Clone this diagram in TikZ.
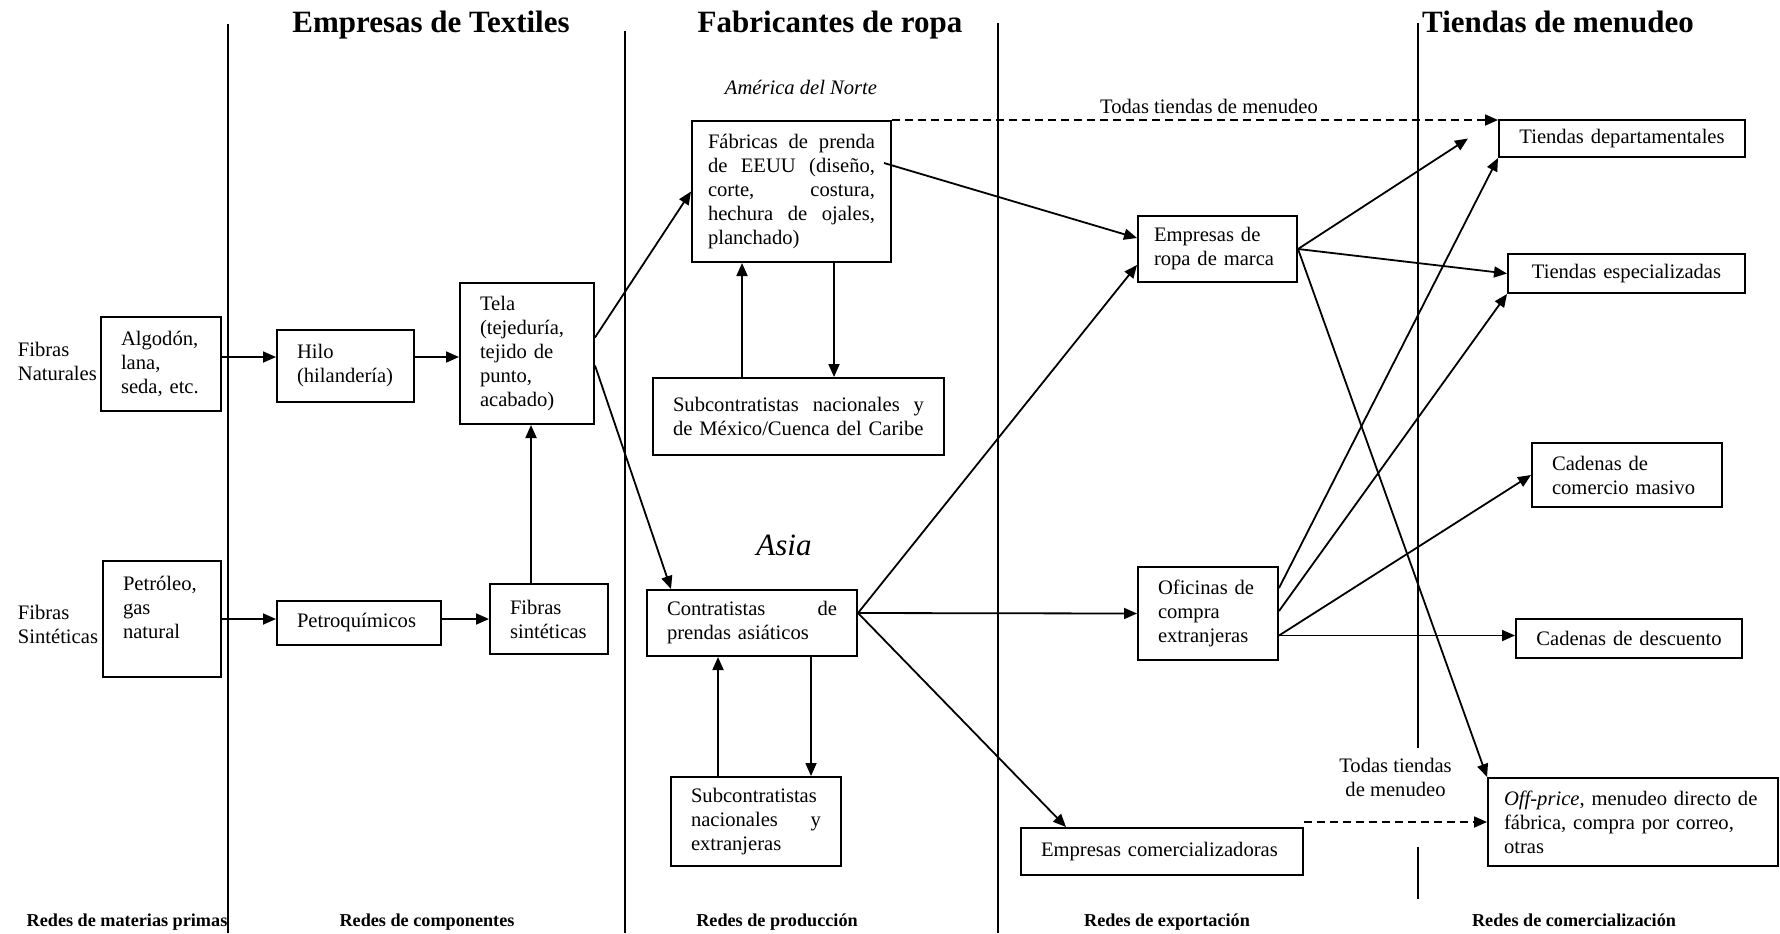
\documentclass[tikz,border=0pt]{standalone}
\usepackage{fontspec}
\setmainfont{Liberation Serif}
\usetikzlibrary{arrows.meta}

\begin{document}
\begin{tikzpicture}[x=0.5pt, y=-0.5pt, >={Triangle[length=6.5pt, width=5.5pt]}, line width=0.9pt,
        font=\fontsize{10.3}{12}\selectfont,
        box/.style={draw, line width=1pt, inner xsep=10pt, inner ysep=2pt, align=left},
        title/.style={font=\fontsize{15.5}{18}\selectfont\bfseries, anchor=base},
        net/.style={font=\fontsize{9.1}{11}\selectfont\bfseries, anchor=base},
        todas/.style={dash pattern=on 4pt off 2.5pt}]
        \useasboundingbox (0,0) rectangle (1780,933);

        % Column separators
        \draw (228,24) -- (228,933);
        \draw (625,31) -- (625,933);
        \draw (998,23) -- (998,933);
        \draw (1418,23) -- (1418,748);
        \draw (1418,847) -- (1418,899);

        % Headings
        \node[title] (textiles) at (431,32) {Empresas de Textiles};
        \node[title] (ropa) at (830,32) {Fabricantes de ropa};
        \node[title] (tiendas) at (1558,32) {Tiendas de menudeo};
        \node[font=\fontsize{10.3}{12}\selectfont\itshape] (norte) at (801,87) {América del Norte};
        \node[font=\fontsize{15.5}{18}\selectfont\itshape, anchor=base] (asia) at (784,555) {Asia};

        % Raw materials
        \node[align=left, anchor=west, inner sep=0pt] (naturales) at (17,361) {Fibras\\Naturales};
        \node[align=left, anchor=west, inner sep=0pt] (sinteticas) at (17,624) {Fibras\\Sintéticas};
        \node[box, text width=40pt, minimum height=47pt] (algodon) at (161,364) {Algodón,\\lana,\\seda, etc.};
        \node[box, text width=39pt, minimum height=58pt] (petroleo) at (162,619) {Petróleo,\\gas\\natural\\\mbox{}};

        % Components
        \node[box, text width=48.5pt, minimum height=36pt] (hilo) at (345.5,366) {Hilo\\(hilandería)};
        \node[box, text width=62pt, minimum height=22pt] (petroq) at (359,623) {Petroquímicos};
        \node[box, text width=47pt, minimum height=70.5pt] (tela) at (527,353.5) {Tela\\(tejeduría,\\tejido de\\punto,\\acabado)};
        \node[box, text width=39pt, minimum height=35pt] (fsint) at (549,619) {Fibras\\sintéticas};

        % Production
        \node[box, inner xsep=8pt, text width=83.5pt, minimum height=70.5pt] (fabricas) at (791.5,191.5)
            {Fábricas \hfill de \hfill prenda\\de \hfill EEUU \hfill (diseño,\\corte, \hfill costura,\\hechura \hfill de \hfill ojales,\\planchado)};
        \node[box, text width=125.5pt, minimum height=38.5pt] (subnorte) at (798.5,416.5)
            {Subcontratistas \hfill nacionales \hfill y\\de México/Cuenca del Caribe};
        \node[box, text width=85pt, minimum height=33pt] (contrat) at (752,623) {Contratistas \hfill de\\prendas asiáticos};
        \node[box, text width=65pt, minimum height=44.5pt] (subasia) at (756,821.5) {Subcontratistas\\nacionales \hfill y\\extranjeras};

        % Export
        \node[box, inner xsep=8pt, text width=63.5pt, minimum height=33pt] (marca) at (1217.5,249) {Empresas de\\ropa de marca};
        \node[box, text width=50pt, minimum height=46.5pt] (oficinas) at (1208,613.5) {Oficinas de\\compra\\extranjeras};
        \node[box, text width=121pt, minimum height=23.5pt] (comerc) at (1162,851.5) {Empresas comercializadoras};

        % Retail
        \node[box, align=center, text width=103pt, minimum height=18.5pt] (depto) at (1622,138.5) {Tiendas departamentales};
        \node[box, align=center, text width=98.5pt, minimum height=19.5pt] (especial) at (1626.5,273.5) {Tiendas especializadas};
        \node[box, text width=75pt, minimum height=32pt] (masivo) at (1627,475) {Cadenas de\\comercio masivo};
        \node[box, align=center, text width=93pt, minimum height=19.5pt] (descuento) at (1629,638.5) {Cadenas de descuento};
        \node[box, inner xsep=8pt, text width=129pt, minimum height=44pt] (offprice) at (1633,822)
            {\textit{Off-price}, menudeo directo de\\fábrica, compra por correo,\\otras};

        % Network labels
        \node[net] (materias) at (127,926) {Redes de materias primas};
        \node[net] (componentes) at (427,926) {Redes de componentes};
        \node[net] (produccion) at (777,926) {Redes de producción};
        \node[net] (exportacion) at (1167,926) {Redes de exportación};
        \node[net] (comercializacion) at (1574,926) {Redes de comercialización};

        % Fibres to fabric
        \draw[->] ([yshift=3.5pt]algodon.east) -- ([yshift=3.5pt]algodon.east -| hilo.west);
        \draw[->] ([yshift=4.5pt]hilo.east) -- ([yshift=4.5pt]hilo.east -| tela.west);
        \draw[->] (petroleo.east) -- (petroleo.east -| petroq.west);
        \draw[->] (fsint.west -| petroq.east) -- (fsint.west);
        \draw[->] ([xshift=-9pt]fsint.north) -- ([xshift=-9pt]fsint.north |- tela.south);

        % Fabric to garment makers
        \draw[->] ([yshift=8pt]tela.east) -- (fabricas.west);
        \draw[->] ([yshift=-6pt]tela.east) -- ([xshift=12.5pt]contrat.north west);
        \draw[->] ([xshift=-28.25pt]subnorte.north) -- ([xshift=-28.25pt]subnorte.north |- fabricas.south);
        \draw[->] ([xshift=17.75pt]subnorte.north |- fabricas.south) -- ([xshift=17.75pt]subnorte.north);
        \draw[->] ([xshift=-19pt]subasia.north) -- ([xshift=-19pt]subasia.north |- contrat.south);
        \draw[->] ([xshift=27.5pt]subasia.north |- contrat.south) -- ([xshift=27.5pt]subasia.north);

        % Garment makers to exporters
        \draw[->] ([xshift=-4pt, yshift=14.25pt]fabricas.east) -- ([yshift=5.5pt]marca.west);
        \draw[->] ([yshift=5pt]contrat.east) -- ([yshift=-8pt]marca.west);
        \draw[->] ([yshift=5pt]contrat.east) -- (oficinas.west);
        \draw[->] ([yshift=5pt]contrat.east) -- ([xshift=23pt]comerc.north west);
        \draw[->, todas] (fabricas.north east) -- node[above, inner sep=2.5pt, pos=0.523] {Todas tiendas de menudeo} (fabricas.north east -| depto.west);

        % Exporters to retail
        \draw[->] (marca.east) -- ([xshift=-15pt]depto.west);
        \draw[->] (marca.east) -- (especial.west);
        \draw[->] (marca.east) -- (offprice.north west);
        \draw[->] ([yshift=12.75pt]oficinas.east) -- (depto.south west);
        \draw[->] ([yshift=1.25pt]oficinas.east) -- (especial.south west);
        \draw[->] ([yshift=-11pt]oficinas.east) -- (masivo.west);
        \draw[->] ([yshift=-11pt]oficinas.east) -- ([yshift=-11pt]oficinas.east -| descuento.west);
        \draw[->, todas] (comerc.north east |- offprice.west) -- node[above=12pt, inner sep=0pt, align=center] {Todas tiendas\\de menudeo} (offprice.west);
\end{tikzpicture}
\end{document}
